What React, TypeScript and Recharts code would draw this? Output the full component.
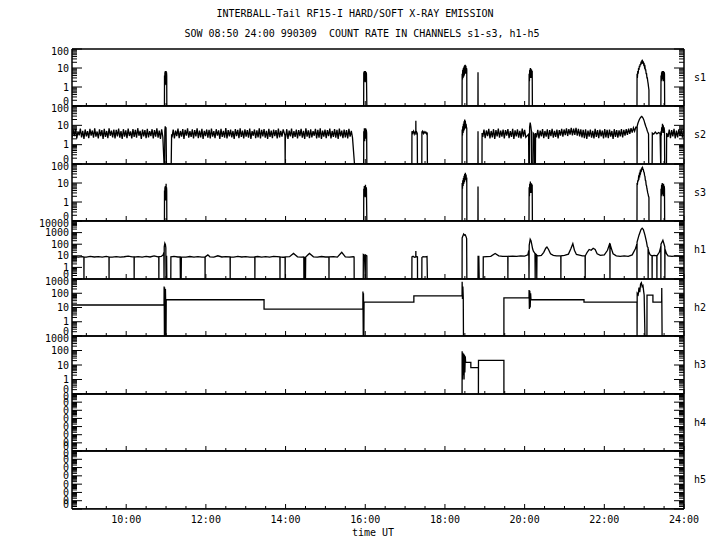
import React from 'react';
import { LineChart, Line, XAxis, YAxis } from 'recharts';

type Pt = [number, number];

// ---------- axis definitions ----------
const T_START = 8.64;
const T_END = 24;
const halfHourTicks: number[] = [9, 9.5, 10, 10.5, 11, 11.5, 12, 12.5, 13, 13.5, 14, 14.5, 15, 15.5, 16, 16.5, 17, 17.5, 18, 18.5, 19, 19.5, 20, 20.5, 21, 21.5, 22, 22.5, 23, 23.5, 24];
const majorHours: number[] = [10, 12, 14, 16, 18, 20, 22, 24];
const hourLabels: string[] = ['10:00', '12:00', '14:00', '16:00', '18:00', '20:00', '22:00', '24:00'];

const panelNames: string[] = ['s1', 's2', 's3', 'h1', 'h2', 'h3', 'h4', 'h5'];
const panelLo: number[] = [0.1, 0.1, 0.1, 0.1, 0.1, 0.1, 1e-8, 1e-8];
const panelHi: number[] = [100, 100, 100, 10000, 1000, 1000, 0.1, 0.1];

const titleLine1 = 'INTERBALL-Tail RF15-I HARD/SOFT X-RAY EMISSION';
const titleLine2 = 'SOW 08:50 24:00 990309  COUNT RATE IN CHANNELS s1-s3, h1-h5';
const xAxisTitle = 'time UT';

// ---------- series values (time in hours UT, count rate; 0 = no counts) ----------
const s1Points: Pt[] = [
  [8.64, 0],
  [10.96, 0], [10.962, 4], [10.967, 1.2], [10.972, 6], [10.977, 1.5], [10.982, 7], [10.987, 1.3], [10.992, 5], [10.997, 2], [11.002, 7], [11.007, 1.5], [11.012, 6], [11.017, 4], [11.02, 0],
  [15.96, 0], [15.963, 6], [15.97, 2], [15.977, 7], [15.984, 2], [15.991, 6], [15.998, 1.8], [16.005, 7], [16.012, 2], [16.02, 6], [16.03, 5], [16.04, 0],
  [18.43, 0], [18.432, 5], [18.44, 2.5], [18.447, 8], [18.455, 3], [18.463, 10], [18.47, 3.5], [18.478, 12], [18.486, 4], [18.494, 14], [18.502, 5], [18.51, 15], [18.518, 6], [18.526, 13], [18.534, 5], [18.542, 10], [18.548, 8], [18.55, 0],
  [18.828, 0], [18.83, 6], [18.832, 0],
  [20.11, 0], [20.113, 5], [20.12, 2], [20.128, 8], [20.136, 3], [20.144, 10], [20.152, 3], [20.16, 9], [20.168, 3], [20.176, 8], [20.184, 4], [20.19, 7], [20.195, 0],
  [22.82, 0], [22.822, 5], [22.83, 3], [22.84, 7], [22.85, 5], [22.86, 10], [22.87, 8], [22.88, 13], [22.89, 11], [22.9, 16], [22.91, 14], [22.92, 19], [22.93, 18], [22.94, 22], [22.95, 20], [22.96, 23], [22.97, 19], [22.98, 20], [22.99, 15], [23.0, 16], [23.01, 11], [23.02, 12], [23.03, 8], [23.04, 8], [23.05, 5], [23.06, 5], [23.07, 3], [23.08, 3], [23.09, 2], [23.1, 1.5], [23.11, 1], [23.12, 0.7], [23.121, 0],
  [23.42, 0], [23.423, 4], [23.43, 2], [23.438, 6], [23.446, 2.5], [23.454, 7], [23.462, 3], [23.47, 6], [23.478, 2], [23.486, 7], [23.494, 3], [23.502, 6], [23.51, 5], [23.515, 0],
  [24, 0],
];

// s2 noisy background segments, sampled every 0.03 h from the given start
const s2NoiseA: number[] = [
  2.3, 5.6, 2.8, 6.4, 2.1, 4.9, 3.0, 6.8, 2.4, 5.2, 2.0, 6.1, 2.7, 5.0, 2.2, 6.6, 2.9, 5.4, 2.3, 7.0,
  2.6, 4.8, 2.1, 6.2, 2.8, 5.7, 2.0, 6.5, 2.5, 5.1, 2.2, 6.9, 2.9, 5.3, 2.4, 6.0, 2.1, 5.8, 2.7, 6.7,
  2.3, 5.0, 2.0, 6.3, 2.6, 5.5, 2.2, 6.8, 2.8, 4.9, 2.1, 6.4, 2.5, 5.9, 2.3, 7.1, 2.9, 5.2, 2.0, 6.1,
  2.7, 5.6, 2.2, 6.6, 2.4, 5.0, 2.8, 6.3, 2.1, 5.7, 2.6, 6.9, 2.3, 5.4, 2.0, 6.2, 2.5,
];
const s2NoiseB1: number[] = [
  2.4, 6.0, 2.1, 5.3, 2.8, 6.7, 2.2, 5.1, 2.6, 6.4, 2.0, 5.8, 2.9, 6.9, 2.3, 5.0, 2.5, 6.2, 2.1, 5.6,
  2.7, 7.0, 2.2, 5.4, 2.4, 6.5, 2.0, 5.2, 2.8, 6.1, 2.3, 5.9, 2.1, 6.8, 2.6, 5.0, 2.2, 6.3, 2.9, 5.5,
  2.0, 6.6, 2.5, 5.2, 2.3, 7.2, 2.1, 5.7, 2.7, 6.0, 2.4, 5.1, 2.0, 6.4, 2.8, 5.8, 2.2, 6.9, 2.5, 5.3,
  2.1, 6.2, 2.6, 5.6, 2.3, 6.7, 2.0, 5.0, 2.9, 6.1, 2.2, 5.5, 2.4, 7.0, 2.1, 5.9, 2.7, 6.3, 2.3, 5.2,
  2.0, 6.6, 2.5, 5.4, 2.2, 6.0, 2.8, 5.7, 2.1, 6.8, 2.4, 5.1, 2.6, 6.2,
];
const s2NoiseB2: number[] = [
  2.3, 6.3, 2.0, 5.4, 2.7, 6.8, 2.2, 5.0, 2.5, 6.1, 2.1, 5.7, 2.8, 6.6, 2.3, 5.2, 2.0, 6.9, 2.6, 5.5,
  2.2, 6.2, 2.4, 5.0, 2.9, 6.5, 2.1, 5.8, 2.3, 7.0, 2.0, 5.3, 2.6, 6.0, 2.2, 5.6, 2.8, 6.7, 2.1, 5.1,
  2.5, 6.4, 2.3, 5.9, 2.0, 6.8, 2.7, 5.4, 2.2, 6.1, 2.4, 5.7, 2.1, 6.5, 2.6, 5.2, 2.3,
];
const s2NoiseC: number[] = [
  2.5, 6.0, 2.2, 5.4, 2.8, 6.5, 2.1, 5.1, 2.4, 6.3, 2.0, 5.7, 2.7, 6.8, 2.3, 5.3, 2.6, 6.1, 2.1, 5.6,
  2.9, 6.4, 2.2, 5.0, 2.5, 6.6, 2.0, 5.5, 2.7, 6.2, 2.3, 5.2, 2.1, 6.7, 2.6, 5.8, 2.4,
];
const s2NoiseD: number[] = [
  2.4, 5.9, 2.1, 5.3, 2.7, 6.4, 2.2, 5.1, 2.6, 6.2, 2.0, 5.6, 2.8, 6.6, 2.3, 5.2, 2.5, 6.0, 2.1, 5.7,
  2.9, 6.5, 2.6, 6.1, 3.1, 7.0, 2.8, 6.4, 3.3, 7.3, 3.0, 6.8, 3.2, 7.4, 2.9, 6.6, 2.7, 6.2, 2.4, 5.8,
  2.2, 6.3, 2.0, 5.4, 2.6, 6.1, 2.3, 5.2, 2.1, 6.5, 2.5, 5.6, 2.2, 6.0, 2.7, 5.3, 2.1, 6.4, 2.4, 5.8,
  2.2, 6.1, 2.6, 5.1, 2.0, 6.3, 2.5, 5.7, 2.3, 5.5, 2.7, 6.4, 2.4, 5.9, 2.9, 6.3, 3.2, 6.8, 3.6, 7.2,
  4.2, 7.5, 5.0, 8.0,
];
const s2NoiseE: number[] = [2.5, 6.1, 2.2, 5.6, 2.7, 6.6, 2.1, 5.3, 2.4, 6.2, 2.8, 5.8, 2.3, 5.5];

const s2Events1: Pt[] = [[10.95, 0], [10.965, 0], [10.97, 5], [10.98, 9], [10.99, 6], [11.0, 8], [11.01, 0], [11.13, 0], [11.14, 3.5]];
const s2Events2: Pt[] = [[13.985, 3], [13.99, 0], [13.995, 3.5]];
const s2Events3: Pt[] = [
  [15.73, 0],
  [15.96, 0], [15.963, 5], [15.97, 2], [15.978, 7], [15.986, 1.5], [15.994, 6], [16.002, 2], [16.01, 7], [16.018, 2], [16.026, 6], [16.035, 4], [16.04, 0],
  [17.17, 0], [17.172, 5], [17.19, 4], [17.21, 5], [17.23, 3.5], [17.25, 4.5], [17.268, 4], [17.27, 17], [17.272, 4], [17.29, 4.5], [17.305, 3.8], [17.31, 0],
  [17.42, 0], [17.422, 4.5], [17.44, 5], [17.46, 3.8], [17.48, 4.6], [17.5, 4], [17.52, 4.5], [17.54, 3.6], [17.555, 4.2], [17.56, 0],
  [18.43, 0], [18.432, 6], [18.44, 3], [18.448, 9], [18.456, 4], [18.464, 12], [18.472, 5], [18.48, 16], [18.488, 6], [18.496, 20], [18.504, 8], [18.512, 17], [18.52, 7], [18.53, 12], [18.54, 8], [18.548, 7], [18.55, 0],
  [18.828, 0], [18.83, 5], [18.832, 0],
  [18.93, 0], [18.932, 4],
];
const s2Events4: Pt[] = [
  [20.1, 3.5], [20.105, 0], [20.12, 0], [20.125, 8], [20.14, 14], [20.155, 9], [20.17, 5], [20.175, 0], [20.21, 0], [20.215, 4], [20.24, 3.5], [20.25, 0], [20.27, 0], [20.275, 4],
];
const s2Events5: Pt[] = [
  [22.82, 8], [22.822, 0], [22.825, 9], [22.84, 12], [22.86, 16], [22.88, 20], [22.9, 24], [22.92, 27], [22.94, 29], [22.96, 26], [22.98, 22], [23.0, 17], [23.02, 12], [23.04, 9], [23.06, 7], [23.08, 5], [23.1, 4], [23.11, 3.5], [23.115, 0],
  [23.2, 0], [23.205, 4], [23.24, 3.5], [23.28, 4.5], [23.32, 3.6], [23.36, 4.2], [23.4, 3.8], [23.415, 0],
  [23.42, 0], [23.423, 5], [23.43, 3], [23.44, 8], [23.45, 4], [23.46, 12], [23.47, 5], [23.48, 10], [23.49, 4], [23.5, 8], [23.51, 5], [23.515, 0],
  [23.56, 0], [23.565, 4],
];

const s3Points: Pt[] = [
  [8.64, 0],
  [10.96, 0], [10.962, 4], [10.967, 1.2], [10.972, 6], [10.977, 1.5], [10.982, 7], [10.987, 1.2], [10.992, 5], [10.997, 1.8], [11.002, 9], [11.007, 1.5], [11.012, 6], [11.017, 4], [11.02, 0],
  [15.96, 0], [15.963, 5], [15.97, 2], [15.977, 7], [15.984, 2], [15.991, 6], [15.998, 1.8], [16.005, 8], [16.012, 2], [16.02, 6], [16.03, 5], [16.04, 0],
  [18.43, 0], [18.432, 10], [18.44, 5], [18.448, 14], [18.456, 7], [18.464, 18], [18.472, 9], [18.48, 24], [18.488, 11], [18.496, 30], [18.504, 14], [18.512, 34], [18.52, 16], [18.53, 28], [18.54, 14], [18.548, 15], [18.55, 0],
  [18.828, 0], [18.83, 6.5], [18.832, 0],
  [20.11, 0], [20.113, 6], [20.12, 2], [20.128, 9], [20.136, 3], [20.144, 12], [20.152, 3], [20.16, 10], [20.168, 3], [20.176, 9], [20.184, 4], [20.19, 8], [20.195, 0],
  [22.82, 0], [22.822, 10], [22.83, 8], [22.84, 14], [22.85, 12], [22.86, 20], [22.87, 18], [22.88, 28], [22.89, 25], [22.9, 38], [22.91, 34], [22.92, 48], [22.93, 45], [22.94, 58], [22.95, 55], [22.96, 64], [22.97, 55], [22.98, 50], [22.99, 38], [23.0, 36], [23.01, 25], [23.02, 22], [23.03, 14], [23.04, 13], [23.05, 8], [23.06, 7], [23.07, 5], [23.08, 4], [23.09, 3], [23.1, 2.5], [23.11, 2], [23.12, 1.7], [23.121, 0],
  [23.42, 0], [23.423, 5], [23.43, 2], [23.438, 8], [23.446, 2.5], [23.454, 10], [23.462, 3], [23.47, 8], [23.478, 2], [23.486, 9], [23.494, 3], [23.502, 7], [23.51, 5], [23.515, 0],
  [24, 0],
];

const h1Points: Pt[] = [
  [8.64, 7.5], [8.7, 8.5], [8.8, 7.8], [8.9, 8.6], [8.938, 8], [8.94, 0], [8.942, 8], [9.0, 7.6], [9.1, 8.8], [9.2, 7.9], [9.3, 8.4], [9.4, 7.7], [9.5, 8.9], [9.568, 8], [9.57, 0], [9.572, 8],
  [9.65, 7.8], [9.75, 8.6], [9.85, 7.6], [9.95, 8.3], [10.05, 9.5], [10.15, 8.2], [10.198, 8], [10.2, 0], [10.202, 7.8], [10.3, 8.5], [10.4, 7.7], [10.5, 8.8], [10.6, 7.9], [10.7, 10], [10.8, 8.2],
  [10.818, 8], [10.82, 0], [10.822, 8.5], [10.88, 8.8], [10.93, 12], [10.945, 20], [10.95, 0], [10.955, 60], [10.97, 120], [10.985, 90], [10.995, 50], [11.0, 0], [11.01, 0], [11.015, 10], [11.02, 0],
  [11.12, 0], [11.122, 8], [11.2, 8.8], [11.3, 7.9], [11.355, 8], [11.36, 0], [11.37, 8], [11.38, 0], [11.385, 8], [11.5, 7.6], [11.6, 8.7], [11.7, 7.8], [11.8, 8.5], [11.9, 7.7], [11.978, 8], [11.98, 0], [11.982, 8],
  [12.05, 12], [12.1, 8.2], [12.2, 7.6], [12.3, 10], [12.4, 7.9], [12.5, 8.6], [12.608, 8], [12.61, 0], [12.612, 8], [12.7, 7.7], [12.8, 8.8], [12.9, 7.9], [13.0, 8.4], [13.1, 7.6], [13.228, 8], [13.23, 0], [13.232, 8],
  [13.3, 8.7], [13.4, 7.8], [13.5, 8.5], [13.6, 7.7], [13.7, 8.9], [13.858, 8], [13.86, 0], [13.862, 8], [13.93, 7.5], [13.988, 7.5], [13.99, 0], [13.992, 8], [14.1, 8.4], [14.2, 16], [14.3, 8.1], [14.4, 7.8],
  [14.458, 8], [14.46, 0], [14.47, 8], [14.48, 0], [14.49, 8], [14.5, 0], [14.505, 8], [14.6, 16], [14.7, 8.2], [14.8, 7.6], [14.9, 8.7], [15.0, 7.9], [15.088, 8], [15.09, 0], [15.092, 8], [15.2, 8.4], [15.3, 7.7],
  [15.41, 20], [15.5, 8.1], [15.6, 7.8], [15.7, 8.3], [15.72, 8], [15.722, 0],
  [15.95, 0], [15.952, 13], [15.98, 11], [16.0, 0], [16.005, 12], [16.04, 10], [16.042, 0],
  [17.17, 0], [17.172, 8], [17.2, 9], [17.24, 7.5], [17.268, 8], [17.27, 26], [17.272, 8], [17.3, 8.5], [17.31, 8], [17.312, 0],
  [17.42, 0], [17.422, 7], [17.45, 8.5], [17.5, 8], [17.55, 8.5], [17.56, 0],
  [18.43, 0], [18.432, 350], [18.45, 500], [18.47, 740], [18.49, 600], [18.51, 650], [18.53, 450], [18.545, 300], [18.55, 0],
  [18.83, 0], [18.832, 10], [18.84, 0], [18.85, 10], [18.86, 0], [18.96, 0],
  [18.962, 8], [19.05, 8.5], [19.15, 9], [19.26, 16], [19.35, 10], [19.45, 9], [19.578, 9], [19.58, 0], [19.582, 9], [19.7, 9.5], [19.8, 9], [19.9, 10], [20.0, 9.5], [20.08, 12], [20.105, 30], [20.11, 0],
  [20.115, 80], [20.14, 270], [20.16, 200], [20.18, 90], [20.2, 40], [20.22, 25], [20.24, 20], [20.26, 15], [20.265, 0], [20.27, 15], [20.3, 12], [20.305, 0], [20.31, 11], [20.35, 10], [20.42, 11], [20.48, 20],
  [20.53, 45], [20.56, 58], [20.6, 35], [20.65, 15], [20.72, 11], [20.8, 10], [20.908, 10], [20.91, 0], [20.912, 10], [21.0, 11], [21.1, 14], [21.16, 40], [21.21, 110], [21.25, 30], [21.3, 13], [21.4, 11],
  [21.45, 10], [21.518, 10], [21.52, 0], [21.522, 10], [21.57, 20], [21.62, 35], [21.67, 30], [21.72, 45], [21.77, 35], [21.82, 15], [21.9, 11], [22.0, 12], [22.08, 30], [22.14, 130], [22.142, 0], [22.145, 100],
  [22.18, 40], [22.22, 15], [22.3, 10], [22.4, 9], [22.5, 10], [22.6, 9], [22.7, 12], [22.78, 40], [22.818, 100], [22.82, 0], [22.822, 150], [22.87, 600], [22.92, 1800], [22.95, 2400], [22.98, 1800], [23.02, 600],
  [23.06, 150], [23.08, 60], [23.098, 50], [23.1, 0], [23.102, 40], [23.12, 20], [23.15, 12], [23.198, 10], [23.2, 0], [23.202, 10], [23.25, 11], [23.318, 10], [23.32, 0], [23.322, 10], [23.38, 20], [23.418, 60],
  [23.42, 0], [23.422, 100], [23.47, 220], [23.5, 100], [23.518, 60], [23.52, 0], [23.522, 40], [23.56, 15], [23.6, 10], [23.7, 9], [23.8, 10], [23.9, 9], [24, 9],
];

const h2Points: Pt[] = [
  [8.64, 15], [10.95, 15], [10.952, 300], [10.96, 0], [10.965, 250], [10.975, 0], [10.985, 200], [10.99, 35], [11.0, 0], [11.005, 35],
  [13.46, 35], [13.46, 7.8], [15.94, 7.8], [15.942, 130], [15.95, 0], [15.955, 100], [15.965, 0], [15.97, 24],
  [17.22, 24], [17.22, 65], [18.43, 65], [18.432, 650], [18.44, 40], [18.45, 300], [18.46, 50], [18.465, 0],
  [19.48, 0], [19.48, 48], [20.11, 48], [20.112, 170], [20.12, 8], [20.13, 150], [20.14, 10], [20.15, 100], [20.16, 35],
  [21.49, 35], [21.49, 24], [22.82, 24], [22.822, 0], [22.825, 100], [22.85, 80], [22.87, 250], [22.89, 120], [22.91, 450], [22.93, 550], [22.95, 300], [22.97, 350], [22.99, 120], [23.0, 75], [23.02, 0],
  [23.07, 0], [23.072, 75], [23.22, 75], [23.22, 24], [23.44, 24], [23.442, 230], [23.45, 0], [24, 0],
];

const h3Points: Pt[] = [
  [8.64, 0], [18.43, 0], [18.432, 90], [18.44, 1], [18.45, 70], [18.46, 2], [18.47, 60], [18.48, 1], [18.49, 50], [18.5, 3], [18.51, 40], [18.52, 15],
  [18.65, 15], [18.65, 6.6], [18.84, 6.6], [18.84, 0], [18.842, 21], [19.48, 21], [19.48, 0], [24, 0],
];

const h4Points: Pt[] = [[8.64, 0], [24, 0]];
const h5Points: Pt[] = [[8.64, 0], [24, 0]];

// ---------- build tables ----------
const seg = (start: number, step: number, vals: number[]): Pt[] => vals.map((v, i) => [start + i * step, v] as Pt);
const NOISE_STEP = 0.03;

const s2Points: Pt[] = [
  ...seg(8.64, NOISE_STEP, s2NoiseA),
  ...s2Events1,
  ...seg(11.15, NOISE_STEP, s2NoiseB1),
  ...s2Events2,
  ...seg(14.0, NOISE_STEP, s2NoiseB2),
  ...s2Events3,
  ...seg(18.95, NOISE_STEP, s2NoiseC),
  ...s2Events4,
  ...seg(20.3, NOISE_STEP, s2NoiseD),
  ...s2Events5,
  ...seg(23.6, NOISE_STEP, s2NoiseE),
];

const panelSeries: Pt[][] = [s1Points, s2Points, s3Points, h1Points, h2Points, h3Points, h4Points, h5Points];

// ---------- layout ----------
const W = 720;
const PLOT_LEFT = 72;
const PLOT_RIGHT = 684;
const panelEdges = [49, 106, 164, 221, 279, 336, 394, 451, 509];
const PAD = 8;
const FONT = "'DejaVu Sans Mono', monospace";
const INK = '#000';

const isMajorLog = (v: number) => Math.abs(Math.log10(v) - Math.round(Math.log10(v))) < 1e-6;
const sameLog = (a: number, b: number) => Math.abs(Math.log10(a) - Math.log10(b)) < 1e-6;
const fmtY = (v: number) => (v < 1 ? '0' : String(Math.round(v)));

const logTicks = (lo: number, hi: number): number[] => {
  const out: number[] = [];
  const k0 = Math.round(Math.log10(lo));
  const k1 = Math.round(Math.log10(hi));
  for (let k = k0; k <= k1; k++) {
    const base = Math.pow(10, k);
    out.push(base);
    if (k < k1) for (let m = 2; m <= 9; m++) out.push(m * base);
  }
  return out;
};

const makeLeftTick = (lo: number, hi: number) => (p: any) => {
  const { x, y, payload } = p;
  const v = payload.value as number;
  const major = isMajorLog(v);
  let ty = y + 3.5;
  if (sameLog(v, hi)) ty = y + 6;
  if (sameLog(v, lo)) ty = y - 1;
  return (
    <g>
      <line x1={x} x2={x + (major ? 10 : 5)} y1={y} y2={y} stroke={INK} strokeWidth={1} />
      {major && (
        <text x={x - 3} y={ty} textAnchor="end" fontSize={10} fontFamily={FONT} fill={INK}>
          {fmtY(v)}
        </text>
      )}
    </g>
  );
};

const rightTick = (p: any) => {
  const { x, y, payload } = p;
  const major = isMajorLog(payload.value as number);
  return <line x1={x} x2={x - (major ? 10 : 5)} y1={y} y2={y} stroke={INK} strokeWidth={1} />;
};

const makeBottomTick = (withLabel: boolean) => (p: any) => {
  const { x, y, payload } = p;
  const idx = majorHours.indexOf(payload.value as number);
  const major = idx >= 0;
  return (
    <g>
      <line x1={x} x2={x} y1={y} y2={y - (major ? 5 : 3)} stroke={INK} strokeWidth={1} />
      {withLabel && major && (
        <text x={x} y={y + 14} textAnchor="middle" fontSize={10} fontFamily={FONT} fill={INK}>
          {hourLabels[idx]}
        </text>
      )}
    </g>
  );
};

const topTick = (p: any) => {
  const { x, y, payload } = p;
  const major = majorHours.indexOf(payload.value as number) >= 0;
  return <line x1={x} x2={x} y1={y} y2={y + (major ? 5 : 3)} stroke={INK} strokeWidth={1} />;
};

const Panel = ({ i }: { i: number }) => {
  const lo = panelLo[i];
  const hi = panelHi[i];
  const top = panelEdges[i];
  const h = panelEdges[i + 1] - top;
  const last = i === panelNames.length - 1;
  const bottomExtra = last ? 40 : 0;
  const data = panelSeries[i].map(([t, v]) => ({ t, v: v < lo ? lo : v }));
  const yTicks = logTicks(lo, hi);
  const axisLine = { stroke: INK, strokeWidth: 1.5 };
  return (
    <div style={{ position: 'absolute', left: 0, top: top - PAD }}>
      <LineChart width={W} height={h + 2 * PAD + bottomExtra} margin={{ top: PAD - 1, bottom: PAD - 1 + bottomExtra, left: 0, right: 0 }}>
        <XAxis xAxisId="b" dataKey="t" type="number" domain={[T_START, T_END]} allowDataOverflow ticks={halfHourTicks} interval={0}
          orientation="bottom" height={1} tickSize={0} tickMargin={0} tickLine={false} axisLine={axisLine} tick={makeBottomTick(last)} />
        <XAxis xAxisId="top" type="number" domain={[T_START, T_END]} allowDataOverflow ticks={halfHourTicks} interval={0}
          orientation="top" height={1} tickSize={0} tickMargin={0} tickLine={false} axisLine={axisLine} tick={topTick} />
        <YAxis yAxisId="l" type="number" scale="log" domain={[lo, hi]} allowDataOverflow ticks={yTicks} interval={0}
          orientation="left" width={PLOT_LEFT} tickSize={0} tickMargin={0} tickLine={false} axisLine={axisLine} tick={makeLeftTick(lo, hi)} />
        <YAxis yAxisId="r" type="number" scale="log" domain={[lo, hi]} allowDataOverflow ticks={yTicks} interval={0}
          orientation="right" width={W - PLOT_RIGHT} tickSize={0} tickMargin={0} tickLine={false} axisLine={axisLine} tick={rightTick} />
        <Line xAxisId="b" yAxisId="l" data={data} dataKey="v" type="linear" stroke={INK} strokeWidth={1.3}
          dot={false} activeDot={false} isAnimationActive={false} />
      </LineChart>
    </div>
  );
};

export default function App() {
  const textStyle: React.CSSProperties = { position: 'absolute', fontFamily: FONT, fontSize: 10, color: INK, whiteSpace: 'pre', lineHeight: '12px' };
  return (
    <div style={{ position: 'absolute', left: 0, top: 0, width: W, height: 550, background: '#fff', overflow: 'hidden' }}>
      <div style={{ ...textStyle, left: -5, width: W, top: 8, textAlign: 'center' }}>{titleLine1}</div>
      <div style={{ ...textStyle, left: 2, width: W, top: 28, textAlign: 'center' }}>{titleLine2}</div>
      {panelNames.map((_, i) => (
        <Panel key={i} i={i} />
      ))}
      {panelNames.map((n, i) => (
        <div key={n} style={{ ...textStyle, left: 694, top: (panelEdges[i] + panelEdges[i + 1]) / 2 - 6 }}>{n}</div>
      ))}
      <div style={{ ...textStyle, left: PLOT_LEFT - 5, width: PLOT_RIGHT - PLOT_LEFT, top: 527, textAlign: 'center' }}>{xAxisTitle}</div>
    </div>
  );
}
